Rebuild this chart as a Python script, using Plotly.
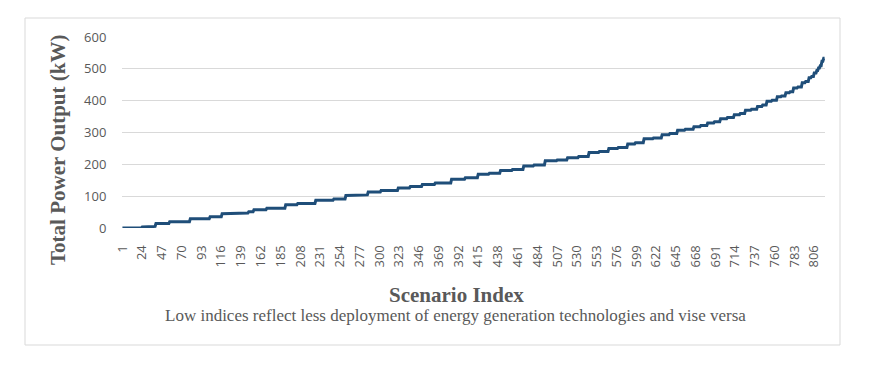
import plotly.graph_objects as go

# Scenario indices where the step level changes, and the level (kW) from there on
step_start = [1, 24, 33, 40, 56, 80, 103, 117, 135, 148, 154, 169, 191, 205, 226, 247,
              261, 275, 287, 302, 322, 336, 350, 365, 384, 400, 415, 428, 441, 455, 468,
              480, 493, 507, 519, 532, 544, 556, 567, 578, 589, 598, 608, 619, 629, 638,
              647, 656, 666, 674, 682, 690, 697, 705, 713, 720, 726, 733, 740, 746, 751,
              757, 763, 768, 773, 778, 782, 787, 792, 796, 800, 803, 806, 809, 811, 813,
              815, 817]
step_level = [0, 3, 5, 14, 20, 29, 35, 45, 47, 51, 57, 62, 73, 77, 87, 91,
              102, 104, 113, 118, 126, 130, 137, 141, 153, 158, 169, 172, 181, 184, 195,
              198, 211, 214, 221, 225, 237, 240, 250, 253, 264, 268, 280, 283, 293, 297,
              307, 310, 318, 322, 330, 334, 343, 347, 356, 360, 370, 373, 382, 386, 398,
              401, 412, 415, 425, 428, 440, 443, 456, 460, 472, 476, 487, 495, 503, 510,
              524, 533]
n_scenarios = 818
tick_labels = list(range(1, 807, 23))

# expand the step table into one value per scenario
scenario = list(range(1, n_scenarios + 1))
power = []
k = 0
for s in scenario:
    while k + 1 < len(step_start) and step_start[k + 1] <= s:
        k += 1
    power.append(step_level[k])

fig = go.Figure()
fig.add_scatter(x=scenario, y=power, mode="lines",
                line=dict(color="#1f4e79", width=3), hoverinfo="skip")

grey = "#595959"
# the page body adds an 8px margin, so the figure is 8px smaller each way
fig.update_layout(
    width=861, height=359,
    margin=dict(l=114, r=44, t=29, b=139),
    paper_bgcolor="white", plot_bgcolor="white",
    showlegend=False,
    font=dict(family="Open Sans", size=13, color=grey),
    xaxis=dict(range=[0.5, n_scenarios + 0.5], tickvals=tick_labels,
               ticktext=[str(t) for t in tick_labels], tickangle=-90,
               showgrid=False, zeroline=False, showline=False,
               ticks="outside", ticklen=11, tickcolor="rgba(0,0,0,0)",
               tickfont=dict(size=13, color=grey)),
    yaxis=dict(range=[0, 600], dtick=100, showgrid=True, gridcolor="#d9d9d9",
               gridwidth=1, zeroline=False, showline=False,
               ticks="outside", ticklen=12, tickcolor="rgba(0,0,0,0)",
               tickfont=dict(size=13, color=grey)),
    shapes=[dict(type="rect", xref="paper", yref="paper",
                 x0=-97 / 703, x1=718 / 703, y0=-117 / 191, y1=1 + 19 / 191,
                 line=dict(color="#d9d9d9", width=1), fillcolor="rgba(0,0,0,0)",
                 layer="below")],
    annotations=[
        dict(text="<b>Total Power Output (kW)</b>", xref="paper", yref="paper",
             x=-64 / 703, y=(228 - 150) / 191, textangle=-90, showarrow=False,
             xanchor="center", yanchor="middle",
             font=dict(family="Liberation Serif", size=21, color=grey)),
        dict(text="<b>Scenario Index</b>", xref="paper", yref="paper",
             x=(456 - 122) / 703, y=-(295 - 228) / 191, showarrow=False,
             xanchor="center", yanchor="middle",
             font=dict(family="Liberation Serif", size=21, color=grey)),
        dict(text="Low indices reflect less deployment of energy generation technologies and vise versa",
             xref="paper", yref="paper",
             x=(455 - 122) / 703, y=-(315 - 228) / 191, showarrow=False,
             xanchor="center", yanchor="middle",
             font=dict(family="Liberation Serif", size=17, color=grey)),
    ],
)

fig.write_html("out.html")
